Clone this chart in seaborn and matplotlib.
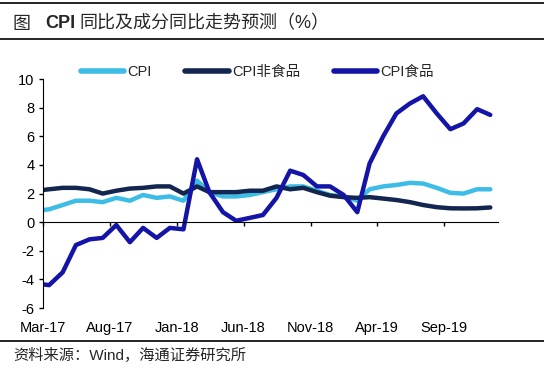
import pandas as pd
import matplotlib.pyplot as plt
import matplotlib.dates as mdates
import seaborn as sns

# monthly data, Feb-17 .. Dec-19 (Feb-17 only shows as the clipped start of the lines)
months = pd.date_range('2017-02-01', '2019-12-01', freq='MS')
cpi = [0.8, 0.9, 1.2, 1.5, 1.5, 1.4, 1.7, 1.5, 1.9, 1.7, 1.8,
       1.5, 2.9, 2.1, 1.8, 1.8, 1.9, 2.1, 2.3, 2.5, 2.5, 2.2, 1.9,
       1.8, 1.5, 2.3, 2.5, 2.6, 2.75, 2.7, 2.4, 2.05, 2.0, 2.3, 2.3]
cpi_nonfood = [2.2, 2.3, 2.4, 2.4, 2.3, 2.0, 2.2, 2.35, 2.4, 2.5, 2.5,
               2.0, 2.5, 2.1, 2.1, 2.1, 2.2, 2.2, 2.5, 2.3, 2.4, 2.1, 1.85,
               1.75, 1.7, 1.75, 1.65, 1.55, 1.4, 1.2, 1.05, 0.97, 0.96, 0.97, 1.03]
cpi_food = [-4.3, -4.4, -3.5, -1.6, -1.2, -1.1, -0.2, -1.4, -0.4, -1.1, -0.4,
            -0.5, 4.4, 2.1, 0.7, 0.1, 0.3, 0.5, 1.7, 3.6, 3.3, 2.5, 2.5,
            1.9, 0.7, 4.1, 6.0, 7.6, 8.3, 8.8, 7.6, 6.5, 6.9, 7.9, 7.5]
series_names = ['CPI', 'CPI非食品', 'CPI食品']
colors = ['#3dbde6', '#13264f', '#1414a6']
y_ticks = list(range(-6, 11, 2))

# points sit mid-month, ticks at month starts
dates = months + pd.Timedelta(days=14)
df = pd.DataFrame({'date': dates, 'CPI': cpi, 'CPI非食品': cpi_nonfood, 'CPI食品': cpi_food})
long_df = df.melt(id_vars='date', var_name='series', value_name='value')

sns.set_style('white')
plt.rcParams['font.family'] = ['Liberation Sans', 'Noto Sans CJK SC', 'DejaVu Sans']
plt.rcParams['axes.unicode_minus'] = False

fig = plt.figure(figsize=(5.44, 3.68), dpi=100)
ax = fig.add_axes([0.079, 0.163, 0.836, 0.622])

sns.lineplot(data=long_df, x='date', y='value', hue='series', hue_order=series_names,
             palette=colors, linewidth=3.2, ax=ax, legend=True,
             solid_joinstyle='round', solid_capstyle='round')

ax.set_xlim(pd.Timestamp('2017-03-01'), pd.Timestamp('2020-01-01'))
ax.set_ylim(-6, 10)
ax.set_yticks(y_ticks)
ax.set_xticks(pd.date_range('2017-03-01', '2019-09-01', freq='5MS'))
ax.xaxis.set_major_formatter(mdates.DateFormatter('%b-%y'))
ax.set_xlabel('')
ax.set_ylabel('')

for s in ['top', 'right']:
    ax.spines[s].set_visible(False)
ax.spines['left'].set_color('black')
ax.spines['bottom'].set_color('black')
ax.spines['bottom'].set_position(('data', 0))
ax.tick_params(axis='y', direction='out', length=3, width=1, labelsize=10.5, pad=3, colors='black', left=True)
ax.tick_params(axis='x', direction='out', length=3, width=1, labelsize=10.5, pad=68, colors='black', bottom=True)

leg = ax.legend(loc='center left', bbox_to_anchor=(0.07, 1.03), ncol=3, frameon=False,
                fontsize=10.5, handlelength=3.0, handletextpad=0.2, columnspacing=2.3,
                borderaxespad=0)
for h in leg.get_lines():
    h.set_linewidth(4)

# title with bold CPI
fig.canvas.draw()
r = fig.canvas.get_renderer()
t1 = fig.text(13 / 544, 1 - 24 / 368, '图', fontsize=13, va='center')
bb = t1.get_window_extent(r)
t2 = fig.text((bb.x1 + 14) / 544, 1 - 24 / 368, 'CPI', fontsize=13, fontweight='bold', va='center')
bb = t2.get_window_extent(r)
fig.text((bb.x1 + 4) / 544, 1 - 24 / 368, '同比及成分同比走势预测（%）', fontsize=13, va='center')

fig.text(13 / 544, 1 - 355 / 368, '资料来源：Wind，海通证券研究所', fontsize=11, va='center')

for y in [3, 39, 341]:
    fig.add_artist(plt.Line2D([0, 1], [1 - y / 368, 1 - y / 368], color='black', linewidth=1.2))

fig.savefig('out.png', dpi=100)
